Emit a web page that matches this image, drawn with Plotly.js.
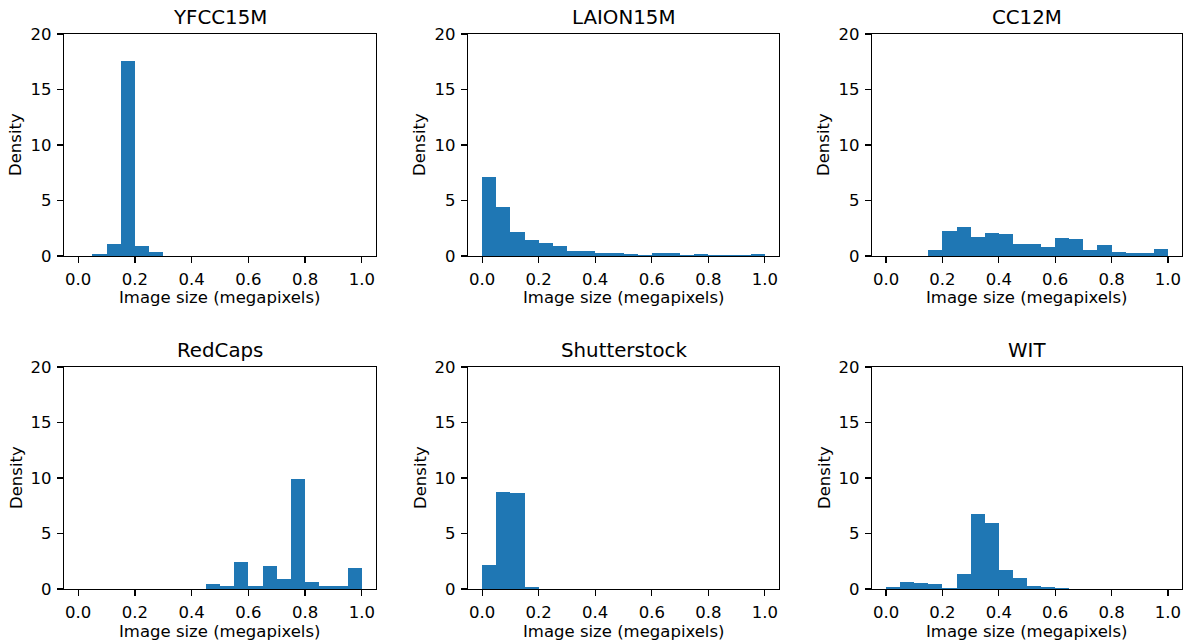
<!DOCTYPE html>
<html>
<head>
<meta charset="utf-8">
<script src="https://cdn.plot.ly/plotly-3.0.1.min.js"></script>
<style>html,body{margin:0;padding:0;background:#fff;}#chart{width:1191px;height:644px;}</style>
</head>
<body>
<div id="chart"></div>
<script>
// Histogram densities, 20 bins of width 0.05 over [0, 1] megapixels
const datasets = ["YFCC15M", "LAION15M", "CC12M", "RedCaps", "Shutterstock", "WIT"];
const binStart = 0.0;
const binWidth = 0.05;
const yfcc15m     = [0.02, 0.18, 1.11, 17.53, 0.90, 0.36, 0, 0, 0, 0, 0, 0, 0, 0, 0, 0, 0, 0, 0, 0];
const laion15m    = [7.14, 4.43, 2.17, 1.45, 1.17, 0.90, 0.45, 0.45, 0.27, 0.27, 0.18, 0.06, 0.27, 0.27, 0.06, 0.18, 0.06, 0.06, 0.06, 0.18];
const cc12m       = [0, 0, 0.02, 0.54, 2.26, 2.62, 1.72, 2.08, 1.99, 1.08, 1.08, 0.81, 1.63, 1.54, 0.54, 0.99, 0.36, 0.27, 0.27, 0.63];
const redcaps     = [0, 0, 0, 0, 0, 0, 0, 0, 0.02, 0.45, 0.27, 2.44, 0.27, 2.08, 0.90, 9.94, 0.63, 0.27, 0.27, 1.90];
const shutterstock= [2.17, 8.77, 8.67, 0.18, 0, 0, 0, 0, 0, 0, 0, 0, 0, 0, 0, 0, 0, 0, 0, 0];
const wit         = [0.18, 0.63, 0.54, 0.45, 0.09, 1.36, 6.78, 5.96, 1.72, 0.99, 0.27, 0.18, 0.09, 0.02, 0, 0, 0, 0, 0, 0];
const seriesList = [yfcc15m, laion15m, cc12m, redcaps, shutterstock, wit];
const xTickVals = [0.0, 0.2, 0.4, 0.6, 0.8, 1.0];
const yTickVals = [0, 5, 10, 15, 20];
const xLabel = "Image size (megapixels)";
const yLabel = "Density";

const W = 1191, H = 644;
const colPx = [[64, 376], [468, 779], [872, 1182]];
const rowPx = [[34, 256], [367, 589]];
const FONT = "DejaVu Sans";
const BAR = "#1f77b4";

const traces = [];
const layout = {
  width: W, height: H,
  margin: {l: 0, r: 0, t: 0, b: 0},
  paper_bgcolor: "#ffffff", plot_bgcolor: "#ffffff",
  showlegend: false, bargap: 0,
  font: {family: FONT, size: 16.5, color: "#000"},
  annotations: []
};

seriesList.forEach((vals, i) => {
  const r = Math.floor(i / 3), c = i % 3;
  const sfx = i === 0 ? "" : String(i + 1);
  const xs = vals.map((_, k) => binStart + binWidth * (k + 0.5));
  traces.push({
    type: "bar", x: xs, y: vals, width: binWidth,
    xaxis: "x" + sfx, yaxis: "y" + sfx,
    marker: {color: BAR, line: {width: 0}},
    hoverinfo: "x+y"
  });
  const xd = [colPx[c][0] / W, colPx[c][1] / W];
  const yd = [1 - rowPx[r][1] / H, 1 - rowPx[r][0] / H];
  const common = {
    showline: true, mirror: true, linecolor: "#000", linewidth: 1.2,
    ticks: "outside", ticklen: 6, tickwidth: 1.2, tickcolor: "#000",
    showgrid: false, zeroline: false, fixedrange: true,
    tickfont: {family: FONT, size: 16.5, color: "#000"}
  };
  layout["xaxis" + sfx] = Object.assign({}, common, {
    domain: xd, anchor: "y" + sfx, range: [-0.05, 1.05],
    tickmode: "array", tickvals: xTickVals, tickformat: ".1f",
    ticklabelstandoff: 2
  });
  layout["yaxis" + sfx] = Object.assign({}, common, {
    domain: yd, anchor: "x" + sfx, range: [0, 20],
    tickmode: "array", tickvals: yTickVals,
    ticklabelstandoff: 2
  });
  const cx = (colPx[c][0] + colPx[c][1]) / 2 / W;
  const cy = (rowPx[r][0] + rowPx[r][1]) / 2;
  layout.annotations.push({
    text: datasets[i], xref: "paper", yref: "paper",
    x: cx, y: 1 - (rowPx[r][0] - 17) / H, xanchor: "center", yanchor: "middle",
    showarrow: false, font: {family: FONT, size: 19.8, color: "#000"}
  });
  layout.annotations.push({
    text: xLabel, xref: "paper", yref: "paper",
    x: cx, y: 1 - (rowPx[r][1] + 42) / H, xanchor: "center", yanchor: "middle",
    showarrow: false, font: {family: FONT, size: 16.5, color: "#000"}
  });
  layout.annotations.push({
    text: yLabel, xref: "paper", yref: "paper", textangle: -90,
    x: (colPx[c][0] - 48) / W, y: 1 - cy / H, xanchor: "center", yanchor: "middle",
    showarrow: false, font: {family: FONT, size: 16.5, color: "#000"}
  });
});

Plotly.newPlot("chart", traces, layout, {displayModeBar: false, staticPlot: true});
</script>
</body>
</html>
